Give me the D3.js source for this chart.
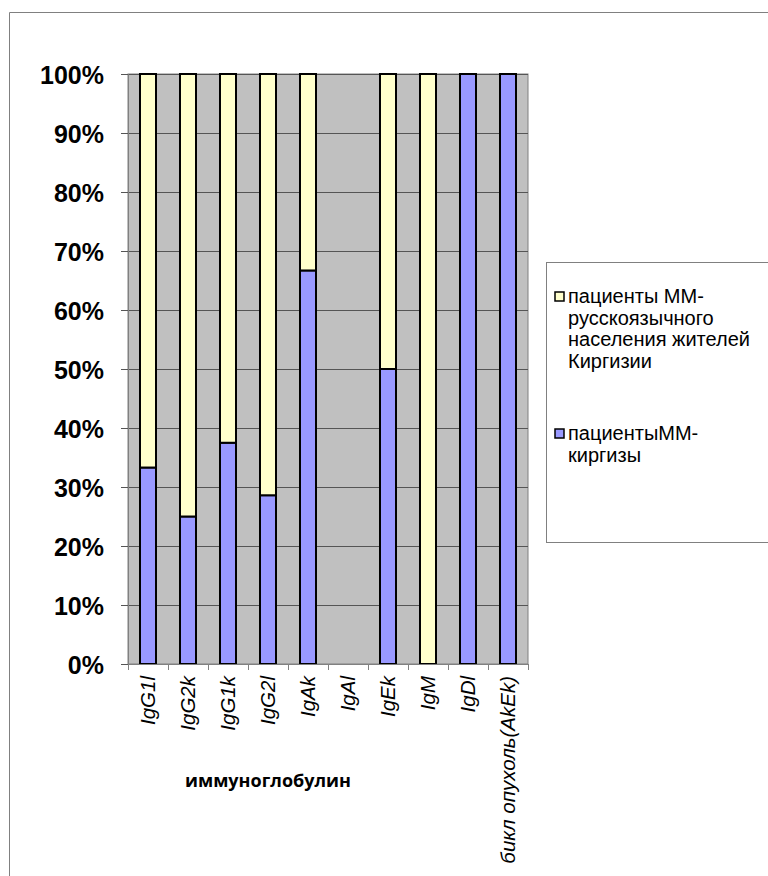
<!DOCTYPE html>
<html>
<head>
<meta charset="utf-8">
<script src="https://cdn.jsdelivr.net/npm/d3@7"></script>
<style>
  html, body { margin: 0; padding: 0; background: #fff; }
  svg { display: block; }
</style>
</head>
<body>
<svg id="chart" width="768" height="876"></svg>
<script>
// Immunoglobulin types
const categories = ["IgG1l", "IgG2k", "IgG1k", "IgG2l", "IgAk", "IgAl", "IgEk", "IgM", "IgDl", "бикл опухоль(AkEk)"];
// Share of patients (percent) per series; IgAl has no cases
const kyrgyz = [33.3, 25, 37.5, 28.6, 66.7, 0, 50, 0, 100, 100];
const russianSpeaking = [66.7, 75, 62.5, 71.4, 33.3, 0, 50, 100, 0, 0];
const yTicks = [0, 10, 20, 30, 40, 50, 60, 70, 80, 90, 100];

const colors = { kyrgyz: "#9999FF", russian: "#FFFFCC" };

const svg = d3.select("#chart");

// Outer chart frame
svg.append("path")
  .attr("d", "M9.5,876 V12.5 H768")
  .attr("fill", "none").attr("stroke", "#808080").attr("stroke-width", 1);

const plot = { left: 128, right: 528, top: 74, bottom: 664 };

const x = d3.scaleBand().domain(categories).range([plot.left, plot.right]).paddingInner(0.6).paddingOuter(0.3);
const xCat = d3.scaleBand().domain(categories).range([plot.left, plot.right]);
const y = d3.scaleLinear().domain([0, 100]).range([plot.bottom, plot.top]);

// Plot background
svg.append("rect")
  .attr("x", plot.left).attr("y", plot.top)
  .attr("width", plot.right - plot.left).attr("height", plot.bottom - plot.top)
  .attr("fill", "#C0C0C0").attr("stroke", "#808080").attr("stroke-width", 1);

// Gridlines
svg.append("g").selectAll("line").data(yTicks.filter(t => t > 0)).join("line")
  .attr("x1", plot.left).attr("x2", plot.right)
  .attr("y1", d => Math.round(y(d)) + 0.5).attr("y2", d => Math.round(y(d)) + 0.5)
  .attr("stroke", "#555").attr("stroke-width", 1);

// Stacked data, normalised to 100%
const rows = categories.map((c, i) => {
  const total = kyrgyz[i] + russianSpeaking[i];
  return {
    cat: c,
    kyrgyz: total ? kyrgyz[i] / total * 100 : 0,
    russian: total ? russianSpeaking[i] / total * 100 : 0
  };
});
const stacked = d3.stack().keys(["kyrgyz", "russian"])(rows);

svg.append("g").selectAll("g").data(stacked).join("g")
  .attr("fill", d => colors[d.key])
  .selectAll("rect").data(d => d.filter(s => s[1] - s[0] > 0)).join("rect")
  .attr("x", d => x(d.data.cat))
  .attr("width", x.bandwidth())
  .attr("y", d => y(d[1]))
  .attr("height", d => y(d[0]) - y(d[1]))
  .attr("stroke", "#000").attr("stroke-width", 2);

// Y axis
const yAxis = svg.append("g").attr("transform", `translate(${plot.left},0)`)
  .call(d3.axisLeft(y).tickValues(yTicks).tickFormat(d => d + "%").tickSize(7).tickPadding(17));
yAxis.select(".domain").attr("stroke", "#808080");
yAxis.selectAll(".tick line").attr("stroke", "#555");
yAxis.selectAll("text")
  .attr("font-family", "Liberation Sans, Arial, sans-serif")
  .attr("font-size", 25).attr("font-weight", "bold").attr("fill", "#000")
  .attr("dy", "0.36em");

// X axis
const xAxis = svg.append("g").attr("transform", `translate(0,${plot.bottom})`)
  .call(d3.axisBottom(xCat).tickSize(0).tickFormat(""));
xAxis.select(".domain").attr("stroke", "#808080");
svg.append("g").selectAll("line").data(d3.range(categories.length + 1)).join("line")
  .attr("x1", i => plot.left + i * xCat.step() + 0.5).attr("x2", i => plot.left + i * xCat.step() + 0.5)
  .attr("y1", plot.bottom).attr("y2", plot.bottom + 6)
  .attr("stroke", "#808080");

svg.append("g").selectAll("text").data(categories).join("text")
  .attr("transform", d => `translate(${xCat(d) + xCat.bandwidth() / 2 + 7},${plot.bottom + 12}) rotate(-90)`)
  .attr("text-anchor", "end")
  .attr("font-family", "Liberation Sans, Arial, sans-serif")
  .attr("font-size", 20.5).attr("font-style", "italic").attr("fill", "#000")
  .text(d => d);

// X axis title
svg.append("text")
  .attr("x", 268).attr("y", 787)
  .attr("text-anchor", "middle")
  .attr("font-family", "Open Sans, sans-serif")
  .attr("font-size", 18).attr("font-weight", "bold").attr("fill", "#000")
  .text("иммуноглобулин");

// Legend
const legend = svg.append("g");
legend.append("rect")
  .attr("x", 546.5).attr("y", 262.5).attr("width", 240).attr("height", 280)
  .attr("fill", "#fff").attr("stroke", "#808080");

const legendItems = [
  { color: colors.russian, lines: ["пациенты ММ-", "русскоязычного", "населения жителей", "Киргизии"], y: 303 },
  { color: colors.kyrgyz, lines: ["пациентыММ-", "киргизы"], y: 440 }
];
legendItems.forEach(item => {
  legend.append("rect")
    .attr("x", 555).attr("y", item.y - 11).attr("width", 9).attr("height", 9)
    .attr("fill", item.color).attr("stroke", "#000").attr("stroke-width", 1.5);
  const t = legend.append("text")
    .attr("font-family", "Liberation Sans, Arial, sans-serif")
    .attr("font-size", 20).attr("fill", "#000");
  item.lines.forEach((ln, k) => {
    t.append("tspan").attr("x", 568).attr("y", item.y + k * 21.5).text(ln);
  });
});
</script>
</body>
</html>
